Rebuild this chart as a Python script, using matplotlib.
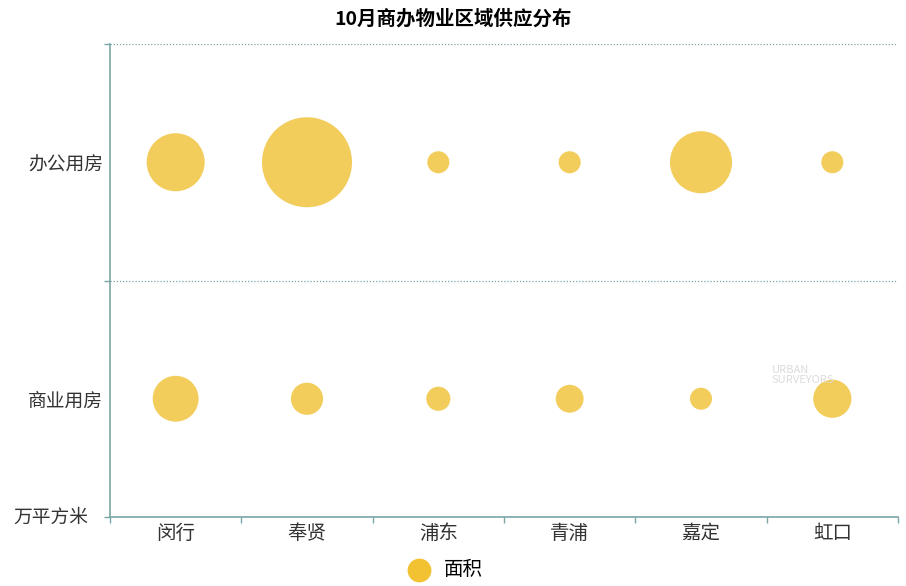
import matplotlib.pyplot as plt
import numpy as np

plt.rcParams['font.family'] = ['Noto Sans CJK SC', 'DejaVu Sans']

# districts and property types
districts = ['闵行', '奉贤', '浦东', '青浦', '嘉定', '虹口']
types = ['商业用房', '办公用房']

# supply area (万平方米)
office = [10.4, 25.0, 1.5, 1.5, 11.9, 1.5]
commercial = [6.5, 3.2, 1.8, 2.4, 1.5, 4.5]

axis_color = '#7aa6a6'
bubble_color = '#f3cd5c'
dpi = 100
px_per_sqrt = 18.0  # bubble diameter in px per sqrt(value)

fig = plt.figure(figsize=(9.06, 5.86), dpi=dpi)
ax = fig.add_axes([110 / 906, 69 / 586, 788 / 906, 473 / 586])

x = np.arange(len(districts))


def sizes(vals):
    d_pt = px_per_sqrt * np.sqrt(np.array(vals)) * 72 / dpi
    return d_pt ** 2


ax.scatter(x, np.ones(len(x)), s=sizes(office), color=bubble_color, edgecolors='none', zorder=3)
ax.scatter(x, np.zeros(len(x)), s=sizes(commercial), color=bubble_color, edgecolors='none', zorder=3)

ax.set_xlim(-0.5, len(districts) - 0.5)
ax.set_ylim(-0.5, 1.5)

# band boundaries as ticks, labels in the middle
ax.set_xticks(np.arange(-0.5, len(districts), 1.0))
ax.set_xticklabels([])
ax.set_xticks(x, minor=True)
ax.set_xticklabels(districts, minor=True, fontsize=14, color='#333333')
ax.tick_params(axis='x', which='minor', length=0, pad=4)
ax.tick_params(axis='x', which='major', length=4, color=axis_color, width=1)

ax.set_yticks([-0.5, 0.5, 1.5])
ax.set_yticklabels([])
ax.set_yticks([0, 1], minor=True)
ax.set_yticklabels(types, minor=True, fontsize=13.5, color='#333333')
ax.tick_params(axis='y', which='minor', length=0, pad=5)
ax.tick_params(axis='y', which='major', length=4, color=axis_color, width=1)

for yy in [0.5, 1.5]:
    ax.axhline(yy, color=axis_color, linestyle=(0, (1, 1.5)), linewidth=0.9, zorder=1)

for s in ['top', 'right']:
    ax.spines[s].set_visible(False)
for s in ['left', 'bottom']:
    ax.spines[s].set_color(axis_color)
    ax.spines[s].set_linewidth(1.2)

fig.text(0.5, 1 - 19 / 586, '10月商办物业区域供应分布', fontsize=14, fontweight='bold',
         ha='center', va='center')

fig.text(51 / 906, 1 - 517 / 586, '万平方米', fontsize=13.5, color='#333333', ha='center', va='center')

# watermark
fig.text(772 / 906, 1 - 375 / 586, 'URBAN\nSURVEYORS', fontsize=8, color='#dcdcdc',
         ha='left', va='center', linespacing=0.9)

# legend
ax.scatter([], [], s=260, color='#f2c232', label='面积')
ax.legend(loc='center', bbox_to_anchor=(0.42, -0.112), frameon=False, fontsize=14,
          handletextpad=0.3, borderpad=0.2)

fig.savefig('out.png', dpi=dpi)
